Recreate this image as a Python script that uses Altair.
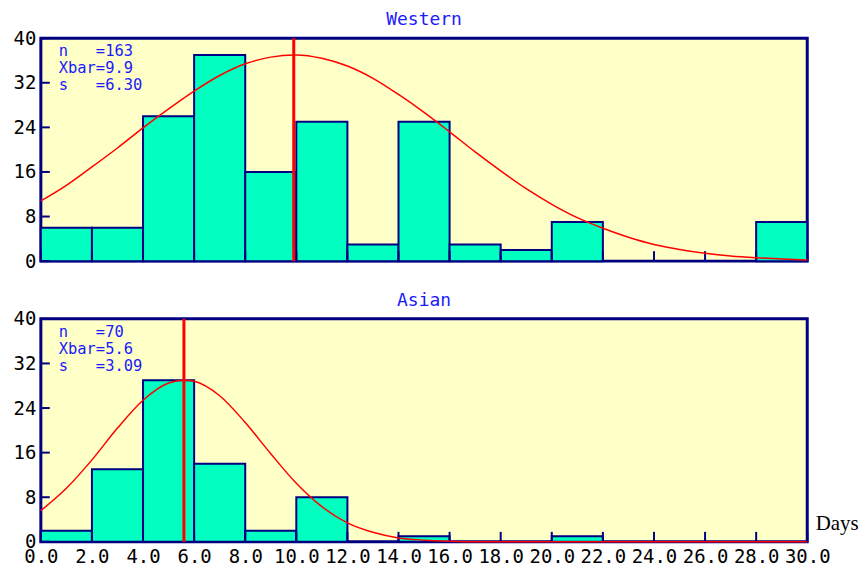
import altair as alt
import pandas as pd

# ---- data ----
bin_starts = [0, 2, 4, 6, 8, 10, 12, 14, 16, 18, 20, 22, 24, 26, 28]
bin_width = 2
western_counts = [6, 6, 26, 37, 16, 25, 3, 25, 3, 2, 7, 0, 0, 0, 7]
asian_counts = [2, 13, 29, 14, 2, 8, 0, 1, 0, 0, 1, 0, 0, 0, 0]

curve_x = list(range(0, 31))
western_curve = [10.8, 13.6, 16.9, 20.3, 23.9, 27.3, 30.5, 33.3, 35.4, 36.6,
                 37.0, 36.4, 35.0, 32.8, 29.9, 26.7, 23.2, 19.6, 16.2, 13.0,
                 10.2, 7.8, 5.9, 4.3, 3.0, 2.1, 1.4, 0.9, 0.6, 0.4, 0.2]
asian_curve = [5.6, 9.6, 14.7, 20.4, 25.4, 28.5, 28.8, 26.2, 21.4, 15.8,
               10.5, 6.3, 3.4, 1.7, 0.7, 0.3, 0.1, 0.0, 0.0, 0.0,
               0.0, 0.0, 0.0, 0.0, 0.0, 0.0, 0.0, 0.0, 0.0, 0.0, 0.0]
western_peak = 37.0
asian_peak = 29.0

western_n, western_mean, western_s = 163, 9.9, "6.30"
asian_n, asian_mean, asian_s = 70, 5.6, "3.09"

x_tick_values = list(range(0, 31, 2))
y_tick_values = [0, 8, 16, 24, 32, 40]

# ---- styles ----
NAVY = "#000080"
BAR = "#00FFC0"
BG = "#FFFFC8"
BLUE = "#1A1AFF"
MONO = "DejaVu Sans Mono"
NB = "\u00a0"
W, H = 770, 224


def panel(title, counts, curve, peak, n, mean, s, bottom):
    bars = pd.DataFrame({
        "start": bin_starts,
        "end": [b + bin_width for b in bin_starts],
        "count": counts,
    })
    cdf = pd.DataFrame({"x": curve_x + [mean], "y": curve + [peak]}).sort_values("x")

    xscale = alt.Scale(domain=[0, 30], nice=False, zero=False)
    yscale = alt.Scale(domain=[0, 40], nice=False)

    if bottom:
        xaxis = alt.Axis(values=x_tick_values, labelExpr="format(datum.value, '.1f')",
                         labelFontSize=19, labelPadding=6, labelFont=MONO,
                         labelOverlap=False, labelFlush=False,
                         title="Days", titleFont="Liberation Serif", titleFontSize=21,
                         titleFontWeight="normal", titleColor="black",
                         titleX=W + 8, titleY=-12, titleAlign="left",
                         titleBaseline="alphabetic", titleAngle=0)
    else:
        xaxis = None
    yaxis = alt.Axis(values=y_tick_values, labelFontSize=19, labelPadding=5,
                     labelFont=MONO, labelOverlap=False, labelFlush=False, title=None)

    rect = alt.Chart(bars).transform_filter("datum.count > 0").mark_rect(
        fill=BAR, stroke=NAVY, strokeWidth=2
    ).encode(
        x=alt.X("start:Q", scale=xscale, axis=xaxis),
        x2="end:Q",
        y=alt.Y("count:Q", scale=yscale, axis=yaxis),
        y2=alt.datum(0),
    )

    xticks = alt.Chart(pd.DataFrame({"t": x_tick_values})).mark_rule(
        color=NAVY, strokeWidth=2
    ).encode(x=alt.X("t:Q", scale=xscale), y=alt.value(H), y2=alt.value(H - 10))

    yticks = alt.Chart(pd.DataFrame({"t": y_tick_values})).mark_rule(
        color=NAVY, strokeWidth=2
    ).encode(y=alt.Y("t:Q", scale=yscale), x=alt.value(0), x2=alt.value(9))

    line = alt.Chart(cdf).mark_line(color="red", strokeWidth=1.5, interpolate="monotone").encode(
        x=alt.X("x:Q", scale=xscale), y=alt.Y("y:Q", scale=yscale)
    )

    mrule = alt.Chart(pd.DataFrame({"m": [mean]})).mark_rule(color="red", strokeWidth=3).encode(
        x=alt.X("m:Q", scale=xscale)
    )

    txt = f"n{NB*3}={n}\nXbar={mean}\ns{NB*3}={s}"
    stats = alt.Chart(pd.DataFrame({"t": [txt]})).mark_text(
        align="left", baseline="top", font=MONO, fontSize=15.5, color=BLUE,
        lineBreak="\n", lineHeight=17
    ).encode(text="t:N", x=alt.value(18), y=alt.value(6))

    return alt.layer(rect, xticks, yticks, line, mrule, stats).properties(
        width=W, height=H,
        title=alt.TitleParams(text=title, color=BLUE, font=MONO, fontSize=18,
                              fontWeight="normal", offset=0, anchor="middle"),
    )


top = panel("Western", western_counts, western_curve, western_peak,
            western_n, western_mean, western_s, False)
bot = panel("Asian", asian_counts, asian_curve, asian_peak,
            asian_n, asian_mean, asian_s, True)

chart = alt.vconcat(top, bot, spacing=17).properties(
    padding={"left": 3, "top": 0, "right": 0, "bottom": 0}
).configure_view(
    stroke=NAVY, strokeWidth=3, fill=BG
).configure_axis(
    domain=False, ticks=False, grid=False, labelColor="black"
)

chart.save("out.html", embed_options={"renderer": "svg", "actions": False})
